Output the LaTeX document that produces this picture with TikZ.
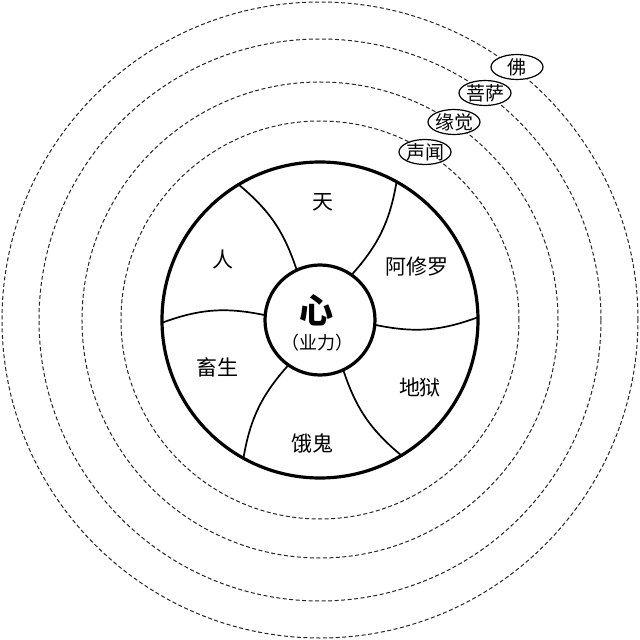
\documentclass[tikz,border=0pt]{standalone}
\usepackage{fontspec}
\setmainfont{Noto Sans CJK SC}
\usetikzlibrary{shapes.geometric}
\newcommand{\ctr}[1]{\makebox[0pt]{\raisebox{-0.38em}[0pt][0pt]{#1}}}
\begin{document}
\begin{tikzpicture}[x=1pt,y=1pt,
  orbit/.style={draw=black!85, line width=1pt, dash pattern=on 4pt off 2.5pt},
  pill/.style={ellipse, draw, line width=1.2pt, fill=white, minimum width=52pt,
    minimum height=25pt, inner sep=0pt, font=\fontsize{19}{19}\selectfont},
  realm/.style={font=\fontsize{21}{21}\selectfont, inner sep=0pt},
  divider/.style={line width=1.7pt},
  ring/.style={circle, draw, line width=3.2pt, outer sep=0pt, inner sep=0pt}]
\useasboundingbox (-320,-320) rectangle (320,320);
\fill[white] (-320,-320) rectangle (320,320);
\foreach \r in {199,238,281,318} \draw[orbit] (0,0) circle (\r pt);
\node[ring, minimum size=316pt] (wheel) at (0,0) {};
\node[ring, fill=white, minimum size=110pt] (hub) at (0,0) {};
\draw[divider] (hub.115) to[bend right=16] (wheel.121);
\draw[divider] (hub.55) to[bend right=16] (wheel.61);
\draw[divider] (hub.355) to[bend right=16] (wheel.1);
\draw[divider] (hub.295) to[bend right=16] (wheel.301);
\draw[divider] (hub.235) to[bend right=16] (wheel.241);
\draw[divider] (hub.175) to[bend right=16] (wheel.181);
\node[realm] (tian) at (3,118) {天};
\node[realm] (ren) at (-97,60) {人};
\node[realm] (axiuluo) at (97,53) {阿修罗};
\node[realm] (chusheng) at (-102,-47) {畜生};
\node[realm] (egui) at (-7,-123) {饿鬼};
\node[realm] (diyu) at (100,-68) {地狱};
\node[inner sep=0pt, font=\fontsize{34}{34}\selectfont\bfseries] (xin) at (-3,10) {心};
\node[inner sep=0pt, font=\fontsize{18}{18}\selectfont] (yeli) at (-2,-23) {（业力）};
\node[pill] (shengwen) at (105,168) {\ctr{声闻}};
\node[pill] (yuanjue) at (134,198) {\ctr{缘觉}};
\node[pill] (pusa) at (165,227) {\ctr{菩萨}};
\node[pill] (fo) at (197,253) {\ctr{佛}};
\end{tikzpicture}
\end{document}
